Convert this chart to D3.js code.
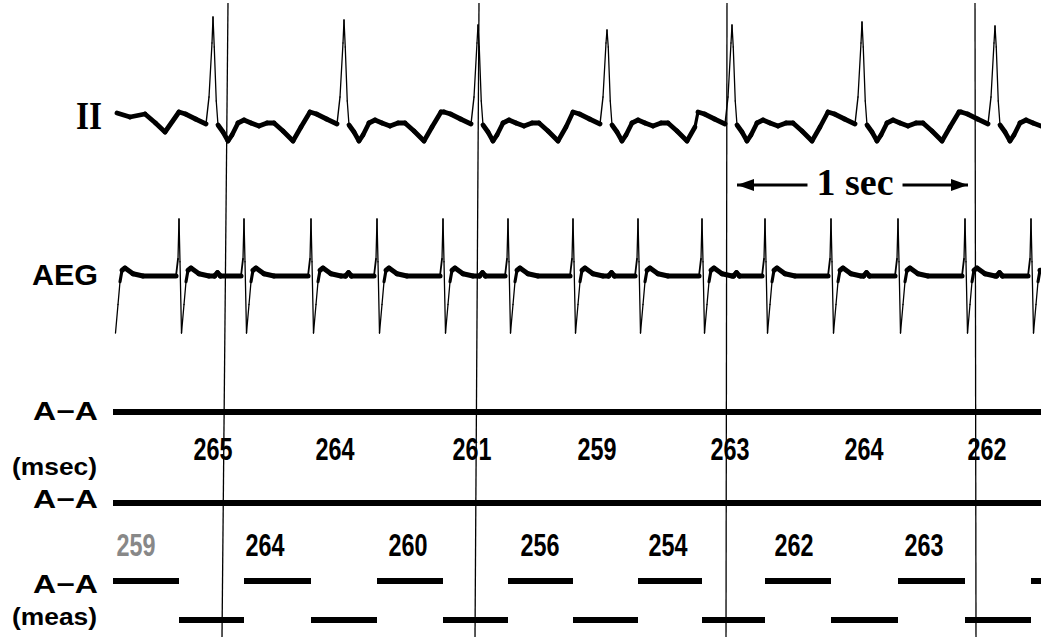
<!DOCTYPE html>
<html>
<head>
<meta charset="utf-8">
<script src="https://cdn.jsdelivr.net/npm/d3@7"></script>
<style>
body { margin: 0; background: #fff; }
</style>
</head>
<body>
<div id="strip"></div>
<script>
// all times are msec from the left edge of the strip
var stripEnd = 3712;

// atrial activations (AEG spikes) and ventricular beats (QRS in lead II)
var atrialTimes = [0, 264, 524, 792, 1056, 1320, 1580, 1840, 2100, 2356, 2608, 2872, 3140, 3408, 3672];
var ventTimes = [400, 924, 1460, 1976, 2476, 2996, 3528];
var rPeaks = [5.2, 5.05, 4.8, 4.55, 4.8, 4.95, 4.75];

// lead II: trace before the first beat, then one beat shape [dt from R, amplitude]
var leadIIStart = [[16, 0.4], [68, 0.2], [128, 0.35], [170, -0.1], [208, -0.55]];
var leadIIBeat = [[-136, 0.45], [-110, 0.35], [-70, 0.1], [-28, -0.15], [-16, 1.2], [-4, 3.9],
                  [0, 5.0], [5, 3.7], [13, 1.0], [20, -0.2], [40, -0.55], [60, -1.0], [76, -0.7],
                  [100, -0.1], [124, 0.05], [152, -0.1], [184, -0.25], [216, -0.1], [244, -0.1],
                  [280, -0.5], [320, -1.0], [352, -0.3], [388, 0.45]];

// AEG: spike shape around each atrial time, small far-field bump after each R
var aegSpike = [[-12, 0], [-4, 0.3], [0, 1], [4, 0.25], [10, -1], [20, -0.5], [28, -0.1],
                [36, 0.1], [48, 0.14], [80, 0.04], [120, 0]];
var aegFarField = [[6, 0], [18, 0.06], [30, 0]];

// vertical time lines [time at top, time at bottom]
var markers = [[460, 436], [1464, 1448], [2456, 2452], [3448, 3452]];

// A-A numbers (msec)
var rowOneValues = [265, 264, 261, 259, 263, 264, 262];
var rowOneTimes = [400, 888, 1436, 1936, 2468, 3004, 3496];
var rowTwoValues = [259, 264, 260, 256, 254, 262, 263];
var rowTwoTimes = [92, 608, 1180, 1708, 2220, 2724, 3244];

// "1 sec" calibration arrow
var secArrow = [2496, 3420];
var secLabelTime = 2968;


var width = 1041, height = 637;

var svg = d3.select("#strip")
  .append("svg")
  .attr("width", width)
  .attr("height", height);

var x = d3.scaleLinear().domain([0, stripEnd]).range([113, 1041]);
var yII = d3.scaleLinear().domain([-1, 5]).range([141, 21]);
var yAEG = d3.scaleLinear().domain([-1, 1]).range([333, 219]);

// build lead II points
var leadII = leadIIStart.slice();
ventTimes.forEach(function(r, i) {
  var next = i < ventTimes.length - 1 ? ventTimes[i + 1] - 136 : Infinity;
  leadIIBeat.forEach(function(p) {
    var t = r + p[0];
    if (t < next && t <= stripEnd) leadII.push([t, p[0] === 0 ? rPeaks[i] : p[1]]);
  });
});

// build AEG points
var aeg = [];
atrialTimes.forEach(function(a) {
  aegSpike.forEach(function(p) { aeg.push([a + p[0], p[1]]); });
});
ventTimes.forEach(function(r) {
  aegFarField.forEach(function(p) { aeg.push([r + p[0], p[1]]); });
});
aeg = aeg.filter(function(p) { return p[0] >= 8 && p[0] <= stripEnd; })
  .sort(function(a, b) { return a[0] - b[0]; });
aeg.push([stripEnd, 0.1]);

// pen trace: fast strokes come out thin
function drawTrace(points, y, maxW, minW) {
  var px = points.map(function(p) { return [x(p[0]), y(p[1])]; });
  svg.append("g")
    .selectAll("line")
    .data(d3.pairs(px))
    .enter()
    .append("line")
      .attr("x1", function(d) { return d[0][0]; })
      .attr("y1", function(d) { return d[0][1]; })
      .attr("x2", function(d) { return d[1][0]; })
      .attr("y2", function(d) { return d[1][1]; })
      .attr("stroke", "#000")
      .attr("stroke-linecap", "round")
      .attr("stroke-width", function(d) {
        var dx = Math.abs(d[1][0] - d[0][0]), dy = Math.abs(d[1][1] - d[0][1]);
        var s = dy / Math.max(dx, 0.01);
        return Math.max(minW, Math.min(maxW, maxW - 0.45 * (s - 1.5)));
      });
}

drawTrace(leadII, yII, 4.8, 1.3);
drawTrace(aeg, yAEG, 5, 1.3);

// A-A continuous lines
[412, 503].forEach(function(yy) {
  svg.append("line")
    .attr("x1", x(0)).attr("x2", x(stripEnd))
    .attr("y1", yy).attr("y2", yy)
    .attr("stroke", "#000").attr("stroke-width", 6);
});

// A-A measured dashes, alternating rows
var dashes = d3.pairs(atrialTimes.concat([stripEnd]));
svg.append("g")
  .selectAll("line")
  .data(dashes)
  .enter()
  .append("line")
    .attr("x1", function(d) { return x(d[0]); })
    .attr("x2", function(d) { return x(d[1]); })
    .attr("y1", function(d, i) { return i % 2 === 0 ? 581 : 620; })
    .attr("y2", function(d, i) { return i % 2 === 0 ? 581 : 620; })
    .attr("stroke", "#000")
    .attr("stroke-width", 6);

// vertical time lines
svg.append("g")
  .selectAll("line")
  .data(markers)
  .enter()
  .append("line")
    .attr("x1", function(d) { return x(d[0]); })
    .attr("x2", function(d) { return x(d[1]); })
    .attr("y1", 3)
    .attr("y2", height)
    .attr("stroke", "#000")
    .attr("stroke-width", 1.3);

// interval numbers
function numberRow(vals, times, base, fill) {
  svg.append("g")
    .selectAll("text")
    .data(vals)
    .enter()
    .append("text")
      .attr("x", function(d, i) { return x(times[i]); })
      .attr("y", base)
      .attr("text-anchor", "middle")
      .attr("textLength", 39)
      .attr("lengthAdjust", "spacingAndGlyphs")
      .style("font-family", "'Liberation Sans', Arial, sans-serif")
      .style("font-weight", "bold")
      .style("font-size", "31px")
      .style("fill", function(d, i) { return fill[i] || "#000"; })
      .text(function(d) { return d; });
}
numberRow(rowOneValues, rowOneTimes, 460, []);
numberRow(rowTwoValues, rowTwoTimes, 556, ["#888"]);

// row labels
function label(txt, base, size, len, family) {
  var t = svg.append("text")
    .attr("x", 98)
    .attr("y", base)
    .attr("text-anchor", "end")
    .style("font-family", family || "'Liberation Sans', Arial, sans-serif")
    .style("font-weight", "bold")
    .style("font-size", size + "px")
    .text(txt);
  if (len) t.attr("textLength", len).attr("lengthAdjust", "spacingAndGlyphs");
  return t;
}
label("II", 129, 40, 26, "'Liberation Serif', 'Times New Roman', serif").attr("x", 102);
label("AEG", 285, 30, 66);
label("A\u2212A", 420, 25, 65);
label("(msec)", 475, 23, 85).attr("x", 97);
label("A\u2212A", 508, 25, 65);
label("A\u2212A", 593, 25, 65);
label("(meas)", 625, 23, 85).attr("x", 97);

// 1 sec calibration
var secY = 185;
var secText = svg.append("text")
  .attr("x", x(secLabelTime))
  .attr("y", 195)
  .attr("text-anchor", "middle")
  .style("font-family", "'Liberation Serif', 'Times New Roman', serif")
  .style("font-weight", "bold")
  .style("font-size", "38px")
  .text("1 sec");
var half = secText.node().getComputedTextLength() / 2 + 9;
var cx = x(secLabelTime);

var arrows = [[x(secArrow[0]), cx - half], [x(secArrow[1]), cx + half]];
svg.append("g")
  .selectAll("line")
  .data(arrows)
  .enter()
  .append("line")
    .attr("x1", function(d) { return d[0]; })
    .attr("x2", function(d) { return d[1]; })
    .attr("y1", secY).attr("y2", secY)
    .attr("stroke", "#000").attr("stroke-width", 3);
svg.append("g")
  .selectAll("path")
  .data(arrows)
  .enter()
  .append("path")
    .attr("d", function(d) {
      var dir = d[0] < d[1] ? 1 : -1;
      return "M" + d[0] + "," + secY + "L" + (d[0] + dir * 17) + "," + (secY - 6) +
             "L" + (d[0] + dir * 17) + "," + (secY + 6) + "Z";
    })
    .attr("fill", "#000");
</script>
</body>
</html>
